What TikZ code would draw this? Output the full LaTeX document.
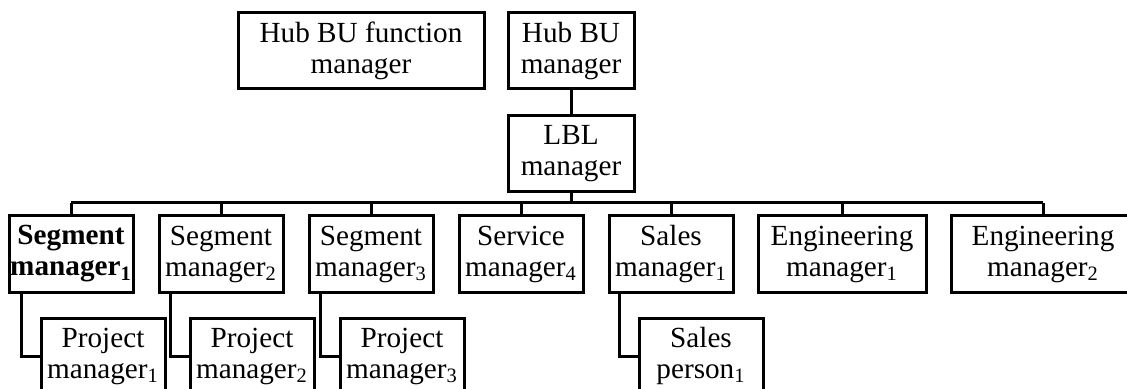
\documentclass[tikz,border=0pt]{standalone}
\usepackage{fontspec}
\setmainfont{Liberation Serif}
\begin{document}
\begin{tikzpicture}[x=0.5pt,y=-0.5pt,
  every node/.style={font=\fontsize{14.6pt}{15.5pt}\selectfont},
  orgbox/.style={draw, line width=1.5pt, inner sep=0pt, align=center,
                 minimum height=38pt},
  narrow/.style={orgbox, minimum width=62pt},
  link/.style={line width=1.5pt}]
  \useasboundingbox (0,0) rectangle (1127,389);
  \clip (0,0) rectangle (1127,389);

  % top level
  \node[orgbox, minimum width=123pt] (hubf) at (361,51) {Hub BU function\\manager};
  \node[orgbox, minimum width=63pt] (hub) at (571,51) {Hub BU\\manager};
  \node[orgbox, minimum width=63pt] (lbl) at (571,153.5) {LBL\\manager};

  % second level
  \node[narrow] (seg1) at (71,254) {\textbf{Segment}\\\textbf{manager\textsubscript{1}}};
  \node[narrow] (seg2) at (221,254) {Segment\\manager\textsubscript{2}};
  \node[narrow] (seg3) at (371,254) {Segment\\manager\textsubscript{3}};
  \node[narrow] (serv) at (521,254) {Service\\manager\textsubscript{4}};
  \node[narrow] (sales) at (671,254) {Sales\\manager\textsubscript{1}};
  \node[orgbox, minimum width=84pt] (eng1) at (842,254) {Engineering\\manager\textsubscript{1}};
  \node[orgbox, minimum width=92pt] (eng2) at (1043,254) {Engineering\\manager\textsubscript{2}};

  % third level
  \node[narrow] (pm1) at (103,356) {Project\\manager\textsubscript{1}};
  \node[narrow] (pm2) at (252,356) {Project\\manager\textsubscript{2}};
  \node[narrow] (pm3) at (402,356) {Project\\manager\textsubscript{3}};
  \node[narrow] (sp1) at (701,356) {Sales\\person\textsubscript{1}};

  % reporting lines
  \coordinate (bus) at (571,203);
  \draw[link] (hub) -- (lbl);
  \draw[link] (lbl) -- (bus);
  \draw[link] (bus -| seg1) -- (bus -| eng2);
  \foreach \n in {seg1,seg2,seg3,serv,sales,eng1,eng2}
    \draw[link] (bus -| \n) -- (\n.north);

  \draw[link] ([xshift=7pt]seg1.south west) |- (pm1.west);
  \draw[link] ([xshift=6.5pt]seg2.south west) |- (pm2.west);
  \draw[link] ([xshift=6.5pt]seg3.south west) |- (pm3.west);
  \draw[link] ([xshift=6pt]sales.south west) |- (sp1.west);
\end{tikzpicture}
\end{document}
